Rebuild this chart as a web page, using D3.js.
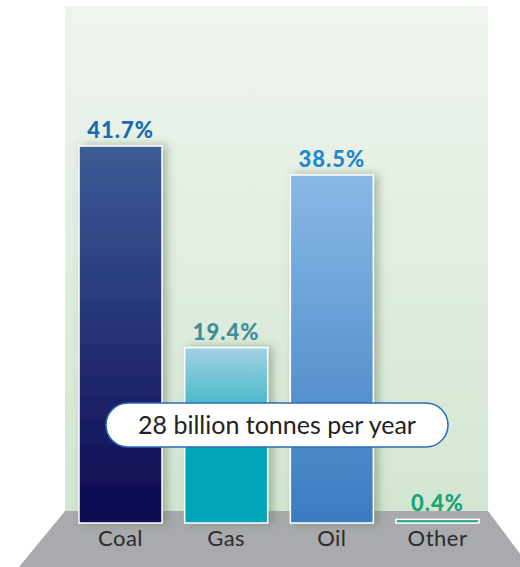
<!DOCTYPE html>
<html>
<head>
<meta charset="utf-8">
<style>
  body { margin: 0; background: #fff; }
  svg { display: block; font-family: Lato, "Open Sans", sans-serif; }
</style>
</head>
<body>
<div id="container"></div>
<script src="https://cdn.jsdelivr.net/npm/d3@7"></script>
<script>
// data
var categories = ["Coal", "Gas", "Oil", "Other"];
var shares = [41.7, 19.4, 38.5, 0.4];
var shareLabels = ["41.7%", "19.4%", "38.5%", "0.4%"];
var totalLabel = "28 billion tonnes per year";

// colours per bar (top, bottom, label)
var barTop = {Coal: "#3c5c96", Gas: "#a2d1e2", Oil: "#88b9e6", Other: "#2fae8e"};
var barBottom = {Coal: "#0d0850", Gas: "#00a5b8", Oil: "#3a7bc0", Other: "#1e9c80"};
var labelColor = {Coal: "#1a6bb5", Gas: "#3f8f98", Oil: "#2389ca", Other: "#19a677"};

var W = 520, H = 567;

var svg = d3.select("#container")
  .append("svg")
    .attr("width", W)
    .attr("height", H);

var defs = svg.append("defs");

// background panel gradient
var bg = defs.append("linearGradient")
  .attr("id", "bg").attr("x1", 0).attr("y1", 0).attr("x2", 0).attr("y2", 1);
bg.append("stop").attr("offset", "0%").attr("stop-color", "#eff5ee");
bg.append("stop").attr("offset", "100%").attr("stop-color", "#d2e6d2");

categories.forEach(function(c, i) {
  var g = defs.append("linearGradient")
    .attr("id", "grad" + i).attr("x1", 0).attr("y1", 0).attr("x2", 0).attr("y2", 1);
  g.append("stop").attr("offset", "0%").attr("stop-color", barTop[c]);
  g.append("stop").attr("offset", c == "Gas" ? "60%" : "100%").attr("stop-color", barBottom[c]);
  if (c == "Gas") g.append("stop").attr("offset", "100%").attr("stop-color", barBottom[c]);
});

var shadow = defs.append("filter")
  .attr("id", "shadow")
  .attr("x", "-30%").attr("y", "-10%").attr("width", "160%").attr("height", "120%");
shadow.append("feDropShadow")
  .attr("dx", 4).attr("dy", 0).attr("stdDeviation", 5)
  .attr("flood-color", "#4d6b4a").attr("flood-opacity", 0.45);

// panel
svg.append("rect")
  .attr("x", 65).attr("y", 6)
  .attr("width", 423).attr("height", 510)
  .attr("fill", "url(#bg)");

// grey floor
svg.append("path")
  .attr("d", "M65,511 L488,511 L530,567 L19,567 Z")
  .attr("fill", "#a9aaad");

// scales
var x = d3.scaleBand()
  .domain(categories)
  .range([79, 479])
  .paddingInner(0.2145)
  .paddingOuter(0);

var y = d3.scaleLinear()
  .domain([0, 50])
  .range([523, 71]);

var data = categories.map(function(c, i) {
  return {cat: c, value: shares[i], label: shareLabels[i], i: i};
});

// bars
svg.append("g")
  .selectAll("rect")
  .data(data)
  .enter()
  .append("rect")
    .attr("x", function(d) { return x(d.cat); })
    .attr("y", function(d) { return y(d.value); })
    .attr("width", x.bandwidth())
    .attr("height", function(d) { return y(0) - y(d.value); })
    .attr("fill", function(d) { return "url(#grad" + d.i + ")"; })
    .attr("stroke", "#ffffff")
    .attr("stroke-width", 1.5)
    .attr("filter", function(d) { return d.value > 1 ? "url(#shadow)" : null; });

// value labels
svg.append("g")
  .selectAll("text")
  .data(data)
  .enter()
  .append("text")
    .attr("x", function(d) { return x(d.cat) + x.bandwidth() / 2; })
    .attr("y", function(d) { return y(d.value) - 8; })
    .attr("text-anchor", "middle")
    .style("font-size", "22px")
    .style("font-weight", "900")
    .style("letter-spacing", "1px")
    .style("fill", function(d) { return labelColor[d.cat]; })
    .text(function(d) { return d.label; });

// category labels
svg.append("g")
  .selectAll("text")
  .data(data)
  .enter()
  .append("text")
    .attr("x", function(d) { return x(d.cat) + x.bandwidth() / 2; })
    .attr("y", 546)
    .attr("text-anchor", "middle")
    .style("font-size", "22px")
    .style("letter-spacing", "0.5px")
    .style("fill", "#2b2b2b")
    .text(function(d) { return d.cat; });

// total pill
svg.append("rect")
  .attr("x", 106).attr("y", 403)
  .attr("width", 342).attr("height", 44)
  .attr("rx", 22).attr("ry", 22)
  .attr("fill", "#ffffff")
  .attr("stroke", "#2a6db3")
  .attr("stroke-width", 1.5);

svg.append("text")
  .attr("x", 277)
  .attr("y", 434)
  .attr("text-anchor", "middle")
  .style("font-size", "25px")
  .style("fill", "#222")
  .text(totalLabel);
</script>
</body>
</html>
